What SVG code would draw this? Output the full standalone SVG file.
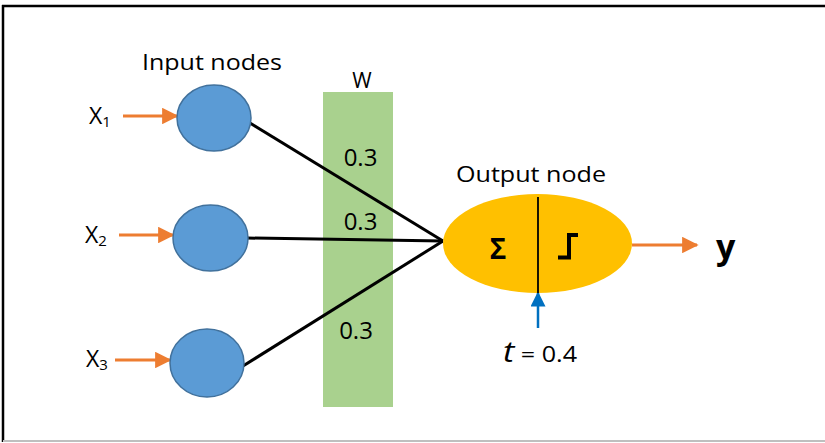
<svg xmlns="http://www.w3.org/2000/svg" width="825" height="443" viewBox="0 0 825 443">
<defs>
<style>
.t{font-family:"Open Sans","Liberation Sans",sans-serif;fill:#000}
.in{fill:#5b9bd5;stroke:#41719c;stroke-width:1.5}
.w{stroke:#000;stroke-width:3;fill:none}
.oa{stroke:#ed7d31;stroke-width:3;fill:none}
.xl{font-size:23px}
.sub{font-size:15px}
</style>
<marker id="ah" viewBox="0 0 10 10" refX="9" refY="5" markerWidth="5.5" markerHeight="5.5" markerUnits="strokeWidth" orient="auto"><path d="M0,0 L10,5 L0,10 z" fill="#ed7d31"/></marker>
<marker id="bh" viewBox="0 0 10 10" refX="9" refY="5" markerWidth="6" markerHeight="6" markerUnits="strokeWidth" orient="auto"><path d="M0,0 L10,5 L0,10 z" fill="#0070c0"/></marker>
</defs>
<rect x="0" y="0" width="825" height="443" fill="#fff"/>
<g id="frame">
<line x1="2" y1="6" x2="825" y2="6" stroke="#000" stroke-width="2.5"/>
<line x1="3" y1="5" x2="3" y2="442" stroke="#000" stroke-width="2.5"/>
<line x1="3" y1="441" x2="825" y2="441" stroke="#bfbfbf" stroke-width="2"/>
</g>
<g id="weights">
<rect x="323" y="92" width="70" height="315" fill="#a9d18e"/>
<text class="t" x="362" y="88" font-size="21" text-anchor="middle">W</text>
</g>
<g id="connectors">
<line class="w" x1="250" y1="123" x2="443" y2="241"/>
<line class="w" x1="247" y1="238" x2="443" y2="241"/>
<line class="w" x1="243" y1="366" x2="443" y2="241"/>
<line class="oa" x1="123" y1="116" x2="177" y2="116" marker-end="url(#ah)"/>
<line class="oa" x1="119" y1="235" x2="173" y2="235" marker-end="url(#ah)"/>
<line class="oa" x1="115" y1="360" x2="170" y2="360" marker-end="url(#ah)"/>
<line class="oa" x1="632" y1="245" x2="697" y2="245" marker-end="url(#ah)"/>
<line x1="538" y1="328" x2="538" y2="293" stroke="#0070c0" stroke-width="2.5" marker-end="url(#bh)"/>
</g>
<g id="weight-labels">
<text class="t" x="360.5" y="166" font-size="24" text-anchor="middle">0.3</text>
<text class="t" x="360.5" y="230" font-size="24" text-anchor="middle">0.3</text>
<text class="t" x="356" y="339" font-size="24" text-anchor="middle">0.3</text>
</g>
<g id="label-input">
<text class="t" x="142" y="70" font-size="22" textLength="140" lengthAdjust="spacingAndGlyphs">Input nodes</text>
</g>
<g id="x1">
<ellipse class="in" cx="214" cy="118" rx="37" ry="33"/>
<text class="t xl" x="89" y="124">X<tspan class="sub" dy="3">1</tspan></text>
</g>
<g id="x2">
<ellipse class="in" cx="210.5" cy="238" rx="37.5" ry="33"/>
<text class="t xl" x="85" y="243">X<tspan class="sub" dy="3">2</tspan></text>
</g>
<g id="x3">
<ellipse class="in" cx="207" cy="363" rx="37" ry="34"/>
<text class="t xl" x="86" y="367">X<tspan class="sub" dy="3">3</tspan></text>
</g>
<g id="output">
<text class="t" x="456" y="182" font-size="22" textLength="150" lengthAdjust="spacingAndGlyphs">Output node</text>
<ellipse cx="537.5" cy="243.5" rx="94.5" ry="49.5" fill="#ffc000"/>
<line x1="538" y1="197" x2="538" y2="293" stroke="#000" stroke-width="1.8"/>
<text class="t" x="498" y="259" font-size="28" font-weight="bold" text-anchor="middle">Σ</text>
<path d="M558,257.5 H569 V235 H578" fill="none" stroke="#000" stroke-width="4"/>
</g>
<g id="threshold">
<text class="t" x="503" y="362" font-size="22" textLength="74" lengthAdjust="spacingAndGlyphs"><tspan font-style="italic" font-size="30">t</tspan> = 0.4</text>
</g>
<g id="y">
<text class="t" x="716" y="259" font-size="34" font-weight="bold">y</text>
</g>
</svg>
